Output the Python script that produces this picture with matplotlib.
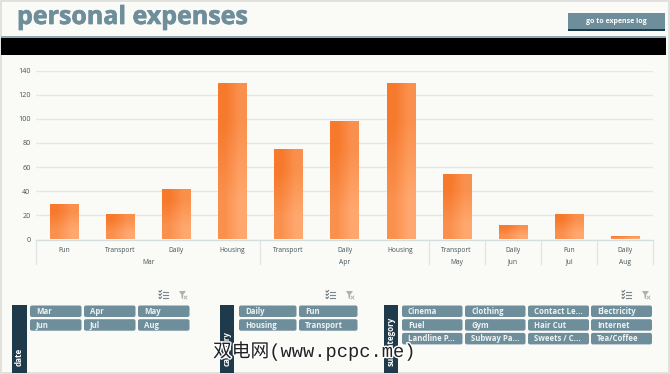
import numpy as np
import matplotlib
matplotlib.use('Agg')
import matplotlib.pyplot as plt
import matplotlib.patheffects as pe
from matplotlib.patches import FancyBboxPatch, Rectangle, Polygon

# datos de la grafica
categories = ['Fun', 'Transport', 'Daily', 'Housing', 'Transport', 'Daily',
              'Housing', 'Transport', 'Daily', 'Fun', 'Daily']
values = [29, 21, 42, 130, 75, 98, 130, 54, 12, 21, 3]
months = ['Mar', 'Apr', 'May', 'Jun', 'Jul', 'Aug']
month_sizes = [4, 3, 1, 1, 1, 1]
y_ticks = [0, 20, 40, 60, 80, 100, 120, 140]

date_items = ['Mar', 'Apr', 'May', 'Jun', 'Jul', 'Aug']
category_items = ['Daily', 'Fun', 'Housing', 'Transport']
subcategory_items = ['Cinema', 'Clothing', 'Contact Le...', 'Electricity',
                     'Fuel', 'Gym', 'Hair Cut', 'Internet',
                     'Landline P...', 'Subway Pa...', 'Sweets / C...', 'Tea/Coffee']

W, H = 670, 374
BG = '#fafaf6'
SLATE = '#6f8e9c'
DARK = '#1f3a4a'
GRID = '#e2e8e8'
TXT = '#44545c'
FONT = ['Open Sans', 'DejaVu Sans']

fig = plt.figure(figsize=(W / 100, H / 100), dpi=100, facecolor=BG)

# capa en pixeles para el marco de la hoja
bg = fig.add_axes([0, 0, 1, 1])
bg.set_xlim(0, W)
bg.set_ylim(H, 0)
bg.axis('off')

bg.add_patch(Rectangle((0.5, 0.5), W - 2, H - 2, fill=False, ec='#dcdcd8', lw=1.2))
bg.text(17, 17.5, 'personal expenses', color=SLATE, fontsize=18, fontweight='bold',
        family=FONT, va='center', ha='left',
        path_effects=[pe.withStroke(linewidth=0.5, foreground=SLATE)])
bg.add_patch(Rectangle((568, 13), 97, 16, fc=SLATE, ec='none'))
bg.add_patch(Rectangle((568, 29), 97, 1.6, fc=DARK, ec='none'))
bg.text(616.5, 21, 'go to expense log', color='white', fontsize=5, fontweight='bold',
        family=FONT, va='center', ha='center')
bg.add_patch(Rectangle((1, 35.5), 665, 2, fc='#8fa9b5', ec='none'))
bg.add_patch(Rectangle((1, 37.5), 665, 17, fc='black', ec='none'))

# grafica de barras
x0, x1, y_top, y_bot = 36, 653, 70.5, 239.5
ax = fig.add_axes([x0 / W, 1 - y_bot / H, (x1 - x0) / W, (y_bot - y_top) / H])
ax.patch.set_alpha(0)
pos = np.arange(len(values))
ax.set_xlim(-0.5, len(values) - 0.5)
ax.set_ylim(0, 140)
ax.set_yticks(y_ticks)
ax.set_xticks([])
ax.grid(axis='y', color=GRID, lw=0.9)
ax.set_axisbelow(True)
ax.tick_params(axis='y', length=0, pad=4, labelsize=5.2, labelcolor=TXT)
for lab in ax.get_yticklabels():
    lab.set_family(FONT)
for s in ax.spines.values():
    s.set_visible(False)
ax.spines['bottom'].set_visible(True)
ax.spines['bottom'].set_color('#d5dedf')
ax.spines['bottom'].set_linewidth(0.9)

bars = ax.bar(pos, values, width=0.5, color='none', ec='none')
grad = np.array([[0.0, 0.5], [0.5, 1.0]])
cmap = matplotlib.colors.LinearSegmentedColormap.from_list('nar', ['#f6792c', '#ffa76e'])
for b in bars:
    im = ax.imshow(grad, cmap=cmap, vmin=0, vmax=1, aspect='auto', interpolation='bilinear',
                   extent=[b.get_x(), b.get_x() + b.get_width(), 0, b.get_height()], zorder=2)
    im.set_clip_path(b)
ax.set_xlim(-0.5, len(values) - 0.5)
ax.set_ylim(0, 140)

# eje de dos niveles
trans = ax.get_xaxis_transform()
for p, c in zip(pos, categories):
    ax.annotate(c, (p, 0), xytext=(0, -7), textcoords='offset pixels', va='top', ha='center',
                fontsize=4.8, color=TXT, family=FONT, annotation_clip=False)
start = 0
edges = [-0.5]
for m, n in zip(months, month_sizes):
    mid = start + (n - 1) / 2
    ax.annotate(m, (mid, 0), xytext=(0, -19), textcoords='offset pixels', va='top', ha='center',
                fontsize=4.8, color=TXT, family=FONT, annotation_clip=False)
    start += n
    edges.append(start - 0.5)
for e in edges:
    ax.plot([e, e], [0, -24 / (y_bot - y_top)], transform=trans, color='#dfe6e6', lw=0.9,
            clip_on=False)


def slicer(name, items, bar_x, col_edges, icon_x):
    n_col = len(col_edges)
    bg.add_patch(Rectangle((bar_x, 305), 14.5, 67.5, fc=DARK, ec='none', zorder=3))
    bg.text(bar_x + 7.5, 365.5, name, rotation=90, color='white', fontsize=5.8, fontweight='bold',
            family=FONT, va='bottom', ha='center', zorder=4)
    for i, item in enumerate(items):
        c = i % n_col
        r = i // n_col
        xa, xb = col_edges[c]
        ya = 305.5 + r * 13.7
        bg.add_patch(FancyBboxPatch((xa + 1, ya + 1), xb - xa - 2, 9.5,
                                    boxstyle='round,pad=1,rounding_size=2',
                                    fc=SLATE, ec='none', zorder=3))
        bg.text(xa + 6, ya + 5.8, item, color='#eef2f3', fontsize=5.6, fontweight='bold',
                family=FONT, va='center', ha='left', zorder=4)
    # iconos de seleccion y filtro
    ix = icon_x
    for k in range(3):
        yy = 291.5 + k * 3.2
        bg.plot([ix - 5, ix - 4, ix - 2.5], [yy - 0.5, yy + 0.7, yy - 1], color='#55666e', lw=0.7)
        bg.plot([ix - 1.5, ix + 4], [yy, yy], color='#77868c', lw=0.8)
    fx = ix + 19
    bg.add_patch(Polygon([(fx - 4, 291), (fx + 3, 291), (fx, 295), (fx, 299), (fx - 1.5, 298),
                          (fx - 1.5, 295)], fc='#a6b2b6', ec='none'))
    bg.plot([fx + 1, fx + 4], [296, 299], color='#b0a8a4', lw=0.6)
    bg.plot([fx + 1, fx + 4], [299, 296], color='#b0a8a4', lw=0.6)


slicer('date', date_items, 12, [(30, 81.5), (84, 135.5), (138, 189.5)], 164)
slicer('category', category_items, 219.5, [(239, 296.5), (299, 357.5)], 331)
slicer('subcategory', subcategory_items, 383.5,
       [(402, 462.5), (465, 525.5), (528, 589), (591, 652)], 627)

# marca de agua
bg.text(213, 351, '双电网(www.pcpc.me)', fontsize=13.5, color='#222222', zorder=6, va='center',
        ha='left', family=['Liberation Mono', 'Noto Sans CJK SC'],
        path_effects=[pe.withStroke(linewidth=2, foreground='white')])

fig.savefig('out.png', dpi=100, facecolor=BG)
